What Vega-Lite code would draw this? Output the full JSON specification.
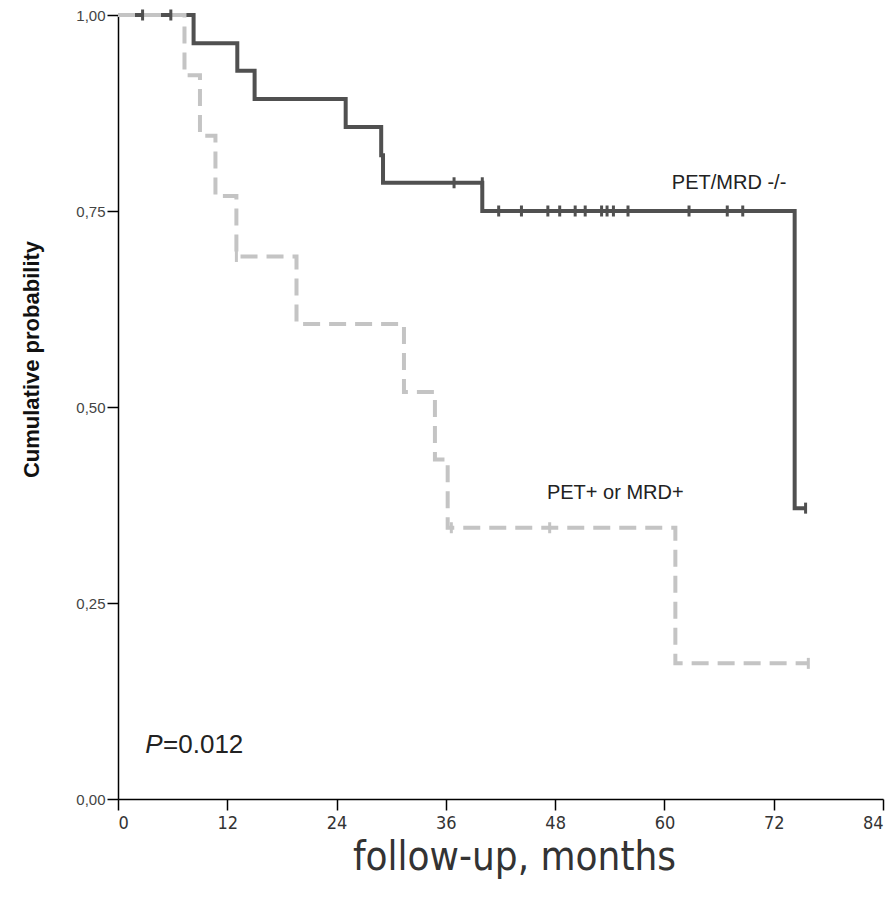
{
  "$schema": "https://vega.github.io/schema/vega-lite/v6.json",
  "autosize": "none",
  "width": 765,
  "height": 784,
  "padding": {"left": 118, "top": 15, "right": 11, "bottom": 100},
  "background": "white",
  "config": {"view": {"stroke": null}},
  "datasets": {
    "km": [
      {"group": "neg", "kind": "step", "t": 0, "s": 1.0},
      {"group": "neg", "kind": "step", "t": 8.3, "s": 0.964},
      {"group": "neg", "kind": "step", "t": 13.1, "s": 0.929},
      {"group": "neg", "kind": "step", "t": 15.0, "s": 0.893},
      {"group": "neg", "kind": "step", "t": 25.0, "s": 0.857},
      {"group": "neg", "kind": "step", "t": 28.9, "s": 0.821},
      {"group": "neg", "kind": "step", "t": 29.1, "s": 0.786},
      {"group": "neg", "kind": "step", "t": 40.0, "s": 0.75},
      {"group": "neg", "kind": "step", "t": 74.3, "s": 0.371},
      {"group": "neg", "kind": "step", "t": 75.5, "s": 0.371},
      {"group": "pos", "kind": "step", "t": 0, "s": 1.0},
      {"group": "pos", "kind": "step", "t": 7.3, "s": 0.923},
      {"group": "pos", "kind": "step", "t": 9.0, "s": 0.846},
      {"group": "pos", "kind": "step", "t": 10.7, "s": 0.769},
      {"group": "pos", "kind": "step", "t": 13.0, "s": 0.692},
      {"group": "pos", "kind": "step", "t": 19.6, "s": 0.606},
      {"group": "pos", "kind": "step", "t": 31.4, "s": 0.519},
      {"group": "pos", "kind": "step", "t": 34.8, "s": 0.433},
      {"group": "pos", "kind": "step", "t": 36.2, "s": 0.346},
      {"group": "pos", "kind": "step", "t": 61.2, "s": 0.173},
      {"group": "pos", "kind": "step", "t": 75.8, "s": 0.173},
      {"group": "neg", "kind": "censor", "t": 2.7, "s": 1.0},
      {"group": "neg", "kind": "censor", "t": 5.8, "s": 1.0},
      {"group": "neg", "kind": "censor", "t": 36.9, "s": 0.786},
      {"group": "neg", "kind": "censor", "t": 40.0, "s": 0.786},
      {"group": "neg", "kind": "censor", "t": 41.8, "s": 0.75},
      {"group": "neg", "kind": "censor", "t": 44.3, "s": 0.75},
      {"group": "neg", "kind": "censor", "t": 47.2, "s": 0.75},
      {"group": "neg", "kind": "censor", "t": 48.5, "s": 0.75},
      {"group": "neg", "kind": "censor", "t": 50.2, "s": 0.75},
      {"group": "neg", "kind": "censor", "t": 51.3, "s": 0.75},
      {"group": "neg", "kind": "censor", "t": 53.1, "s": 0.75},
      {"group": "neg", "kind": "censor", "t": 53.7, "s": 0.75},
      {"group": "neg", "kind": "censor", "t": 54.4, "s": 0.75},
      {"group": "neg", "kind": "censor", "t": 56.0, "s": 0.75},
      {"group": "neg", "kind": "censor", "t": 62.7, "s": 0.75},
      {"group": "neg", "kind": "censor", "t": 66.9, "s": 0.75},
      {"group": "neg", "kind": "censor", "t": 68.6, "s": 0.75},
      {"group": "neg", "kind": "censor", "t": 75.5, "s": 0.371},
      {"group": "pos", "kind": "censor", "t": 13.0, "s": 0.692},
      {"group": "pos", "kind": "censor", "t": 36.6, "s": 0.346},
      {"group": "pos", "kind": "censor", "t": 47.4, "s": 0.346},
      {"group": "pos", "kind": "censor", "t": 75.8, "s": 0.173}
    ],
    "labels": [
      {"t": 67.1, "s": 0.786, "label": "PET/MRD -/-"},
      {"t": 54.6, "s": 0.39, "label": "PET+ or MRD+"}
    ]
  },
  "layer": [
    {
      "data": {"name": "km"},
      "transform": [{"filter": "datum.kind === 'step' && datum.group === 'neg'"}],
      "mark": {"type": "line", "interpolate": "step-after", "color": "#505050", "strokeWidth": 4, "strokeCap": "butt"},
      "encoding": {
        "x": {"field": "t", "type": "quantitative", "scale": {"domain": [0, 84], "nice": false},
          "axis": {"values": [0, 12, 24, 36, 48, 60, 72, 84], "title": "follow-up, months", "grid": false,
            "domainColor": "#000", "domainWidth": 1.5, "tickColor": "#000", "tickWidth": 1.5, "tickSize": 11,
            "labelFont": "DejaVu Sans Condensed, Liberation Sans, sans-serif", "labelFontSize": 18, "labelColor": "#333", "labelPadding": 4,
            "titleFont": "DejaVu Sans Condensed, Liberation Sans, sans-serif", "titleFontSize": 40, "titleFontWeight": "normal", "titleColor": "#333",
            "titleX": 396, "titleY": 58, "titleBaseline": "middle", "titleAnchor": "middle"}},
        "y": {"field": "s", "type": "quantitative", "scale": {"domain": [0, 1], "nice": false},
          "axis": {"values": [0, 0.25, 0.5, 0.75, 1], "format": ".2f", "labelExpr": "replace(datum.label, '.', ',')",
            "title": "Cumulative probability", "grid": false,
            "domainColor": "#000", "domainWidth": 1.5, "tickColor": "#000", "tickWidth": 1.5, "tickSize": 11,
            "labelFont": "Liberation Sans", "labelFontSize": 15, "labelColor": "#444", "labelPadding": 2,
            "titleFont": "Liberation Sans", "titleFontSize": 22, "titleFontWeight": "bold", "titleColor": "#111",
            "titleX": -87, "titleY": 344, "titleBaseline": "middle", "titleAngle": 270}}
      }
    },
    {
      "data": {"name": "km"},
      "transform": [{"filter": "datum.kind === 'step' && datum.group === 'pos'"}],
      "mark": {"type": "line", "interpolate": "step-after", "color": "#c4c4c4", "strokeWidth": 4, "strokeCap": "butt", "strokeDash": [17, 9]},
      "encoding": {
        "x": {"field": "t", "type": "quantitative"},
        "y": {"field": "s", "type": "quantitative"}
      }
    },
    {
      "data": {"name": "km"},
      "transform": [{"filter": "datum.kind === 'censor' && datum.group === 'neg'"}],
      "mark": {"type": "tick", "orient": "vertical", "color": "#505050", "size": 11, "thickness": 3, "opacity": 1},
      "encoding": {
        "x": {"field": "t", "type": "quantitative"},
        "y": {"field": "s", "type": "quantitative"}
      }
    },
    {
      "data": {"name": "km"},
      "transform": [{"filter": "datum.kind === 'censor' && datum.group === 'pos'"}],
      "mark": {"type": "tick", "orient": "vertical", "color": "#c4c4c4", "size": 11, "thickness": 3, "opacity": 1},
      "encoding": {
        "x": {"field": "t", "type": "quantitative"},
        "y": {"field": "s", "type": "quantitative"}
      }
    },
    {
      "data": {"name": "labels"},
      "mark": {"type": "text", "font": "Liberation Sans", "fontSize": 20, "color": "#222", "align": "center", "baseline": "middle"},
      "encoding": {
        "x": {"field": "t", "type": "quantitative"},
        "y": {"field": "s", "type": "quantitative"},
        "text": {"field": "label"}
      }
    },
    {
      "data": {"values": [{"t": 3.0, "s": 0.069, "label": "P"}]},
      "mark": {"type": "text", "font": "Liberation Sans", "fontSize": 26, "fontStyle": "italic", "color": "#222", "align": "left", "baseline": "middle"},
      "encoding": {
        "x": {"field": "t", "type": "quantitative"},
        "y": {"field": "s", "type": "quantitative"},
        "text": {"field": "label"}
      }
    },
    {
      "data": {"values": [{"t": 4.95, "s": 0.069, "label": "=0.012"}]},
      "mark": {"type": "text", "font": "Liberation Sans", "fontSize": 26, "color": "#222", "align": "left", "baseline": "middle"},
      "encoding": {
        "x": {"field": "t", "type": "quantitative"},
        "y": {"field": "s", "type": "quantitative"},
        "text": {"field": "label"}
      }
    }
  ]
}
